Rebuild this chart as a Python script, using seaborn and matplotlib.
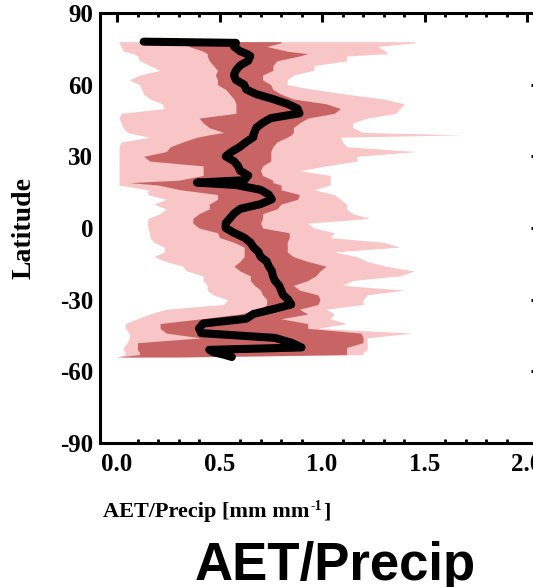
import matplotlib
matplotlib.use("Agg")
import matplotlib.pyplot as plt
import seaborn as sns
import numpy as np
from matplotlib.ticker import MultipleLocator

sns.set_style("white")
plt.rcParams["font.family"] = ["Liberation Serif", "DejaVu Serif"]
plt.rcParams["font.weight"] = "bold"
plt.rcParams["axes.unicode_minus"] = False
for k in ["text.color", "axes.labelcolor", "xtick.color", "ytick.color", "axes.edgecolor"]:
    plt.rcParams[k] = "black"

# ---- data ----
lat = [78, 77.5, 76, 74, 73, 72, 70, 68, 66, 64,
       62, 60, 58, 56, 54, 52, 50, 48, 46, 44,
       42, 40, 39, 38, 36, 34, 32, 30, 28, 26,
       24, 22, 20, 19, 18, 16, 14, 12, 10, 8,
       6, 4, 2, 0, -2, -4, -6, -8, -10, -12,
       -14, -16, -18, -20, -22, -24, -26, -28, -30, -32,
       -34, -36, -38, -40, -42, -44, -46, -48, -50, -51,
       -52, -53, -54]

# outer (light) band: lower / upper
outer_lo = [0.01, 0.01, 0.02, 0.03, 0.08, 0.10, 0.11, 0.16, 0.21, 0.11,
            0.06, 0.11, 0.12, 0.13, 0.16, 0.22, 0.23, 0.02, 0.01, 0.02,
            0.03, 0.05, 0.10, 0.16, 0.02, 0.01, 0.01, 0.01, 0.01, 0.01,
            0.01, 0.01, 0.01, 0.01, 0.01, 0.15, 0.15, 0.24, 0.18, 0.24,
            0.21, 0.15, 0.15, 0.15, 0.16, 0.16, 0.18, 0.23, 0.23, 0.18,
            0.24, 0.32, 0.34, 0.42, 0.42, 0.44, 0.44, 0.47, 0.54, 0.52,
            0.24, 0.16, 0.10, 0.04, 0.04, 0.06, 0.06, 0.05, 0.03, 0.03,
            0.04, 0.04, 0.00]
outer_hi = [1.45, 1.45, 1.27, 1.31, 1.32, 1.12, 1.12, 0.96, 0.96, 0.86,
            0.83, 0.83, 0.96, 1.12, 1.30, 1.40, 1.38, 1.36, 1.22, 1.15,
            1.15, 1.20, 1.68, 1.09, 1.10, 1.12, 1.46, 1.17, 1.17, 1.02,
            0.89, 1.04, 1.04, 1.04, 1.04, 0.96, 1.06, 1.09, 1.12, 1.12,
            1.15, 1.23, 0.93, 0.96, 1.06, 1.04, 1.30, 1.38, 1.06, 1.17,
            1.22, 1.31, 1.45, 1.38, 1.15, 1.10, 1.40, 1.22, 1.20, 1.20,
            1.02, 1.06, 1.04, 1.12, 0.98, 1.44, 1.22, 1.22, 1.22, 1.22,
            1.20, 1.20, 0.30]

# inner (dark) band: lower / upper
inner_lo = [0.13, 0.35, 0.35, 0.42, 0.44, 0.44, 0.45, 0.47, 0.49, 0.48,
            0.49, 0.49, 0.53, 0.55, 0.57, 0.58, 0.58, 0.58, 0.40, 0.42,
            0.45, 0.52, 0.45, 0.39, 0.32, 0.26, 0.24, 0.13, 0.16, 0.42,
            0.42, 0.42, 0.30, 0.06, 0.20, 0.31, 0.49, 0.49, 0.45, 0.45,
            0.40, 0.37, 0.37, 0.40, 0.49, 0.50, 0.57, 0.62, 0.62, 0.62,
            0.60, 0.57, 0.60, 0.65, 0.65, 0.67, 0.70, 0.71, 0.73, 0.73,
            0.70, 0.60, 0.41, 0.21, 0.21, 0.24, 0.41, 0.10, 0.10, 0.10,
            0.11, 0.11, 0.00]
inner_hi = [0.80, 0.80, 0.73, 0.83, 0.93, 0.89, 0.78, 0.76, 0.76, 0.71,
            0.71, 0.75, 0.76, 0.80, 0.86, 1.02, 1.09, 1.06, 0.93, 0.89,
            0.86, 0.86, 0.85, 0.83, 0.78, 0.76, 0.75, 0.75, 0.75, 0.71,
            0.70, 0.71, 0.76, 0.76, 0.80, 0.80, 0.89, 0.88, 0.80, 0.78,
            0.71, 0.71, 0.70, 0.71, 0.84, 0.84, 0.83, 0.83, 0.83, 0.86,
            0.93, 1.02, 0.99, 0.97, 0.93, 0.86, 0.89, 0.98, 0.99, 0.98,
            0.89, 0.93, 0.80, 0.93, 0.93, 1.19, 1.20, 1.20, 1.12, 1.12,
            1.12, 1.12, 0.30]

# median line
median = [0.13, 0.58, 0.57, 0.60, 0.63, 0.65, 0.64, 0.60, 0.58, 0.57,
          0.58, 0.62, 0.63, 0.68, 0.76, 0.83, 0.88, 0.89, 0.75, 0.71,
          0.68, 0.67, 0.665, 0.665, 0.63, 0.60, 0.56, 0.53, 0.57, 0.59,
          0.60, 0.64, 0.62, 0.39, 0.58, 0.70, 0.74, 0.755, 0.70, 0.60,
          0.57, 0.55, 0.53, 0.53, 0.57, 0.62, 0.65, 0.665, 0.69, 0.70,
          0.73, 0.74, 0.755, 0.76, 0.77, 0.79, 0.80, 0.81, 0.835, 0.85,
          0.76, 0.665, 0.63, 0.42, 0.40, 0.41, 0.77, 0.85, 0.90, 0.45,
          0.47, 0.52, 0.56]

x_ticks = [0.0, 0.5, 1.0, 1.5, 2.0]
x_ticklabels = ["0.0", "0.5", "1.0", "1.5", "2.0"]
y_ticks = [90, 60, 30, 0, -30, -60, -90]
y_ticklabels = ["90", "60", "30", "0", "-30", "-60", "-90"]

light = "#F8C6C6"
dark = "#C86464"

W, H = 533, 587
fig = plt.figure(figsize=(W / 100, H / 100), dpi=100)
ax = fig.add_axes([100 / W, (H - 443) / H, 440 / W, 430 / H])

ax.fill_betweenx(lat, outer_lo, outer_hi, color=light, lw=0)
ax.fill_betweenx(lat, inner_lo, inner_hi, color=dark, lw=0)
sns.lineplot(x=median, y=lat, orient="y", sort=False, estimator=None,
             color="black", lw=5.8, ax=ax, solid_capstyle="round",
             solid_joinstyle="round")

ax.set_xlim(-0.083, 2.063)
ax.set_ylim(-90, 90)
ax.set_xticks(x_ticks)
ax.set_xticklabels(x_ticklabels)
ax.set_yticks(y_ticks)
ax.set_yticklabels(y_ticklabels)
ax.xaxis.set_minor_locator(MultipleLocator(0.1))
ax.set_xlabel("")
ax.set_ylabel("")

for s in ax.spines.values():
    s.set_linewidth(2.2)
    s.set_color("black")
    s.set_visible(True)

ax.tick_params(axis="both", which="major", direction="in", length=6.8,
               width=2.2, top=True, right=True, labelsize=18, colors="black")
ax.tick_params(axis="x", which="minor", direction="in", length=3,
               width=2.0, top=True, bottom=True)
ax.tick_params(axis="x", which="major", pad=7)
ax.tick_params(axis="y", which="major", pad=5)

fig.text(24 / W, (H - 228) / H, "Latitude", rotation=90, ha="center",
         va="center", fontsize=20, fontweight="bold")

# x-axis label with a hyphen superscript, built from pieces
fig.canvas.draw()
renderer = fig.canvas.get_renderer()
t1 = fig.text(103 / W, (H - 517) / H, "AET/Precip [mm mm", ha="left",
              va="baseline", fontsize=16, fontweight="bold")
bb = t1.get_window_extent(renderer)
t2 = fig.text(bb.x1 / W + 1 / W, (H - 517) / H + 7 / H, "-1", ha="left",
              va="baseline", fontsize=10, fontweight="bold")
bb2 = t2.get_window_extent(renderer)
fig.text(bb2.x1 / W + 1 / W, (H - 517) / H, "]", ha="left",
         va="baseline", fontsize=16, fontweight="bold")

fig.text(335 / W, (H - 580) / H, "AET/Precip", ha="center", va="baseline",
         fontsize=38, fontweight="bold",
         family=["Liberation Sans", "DejaVu Sans"])

fig.savefig("out.png", dpi=100)
